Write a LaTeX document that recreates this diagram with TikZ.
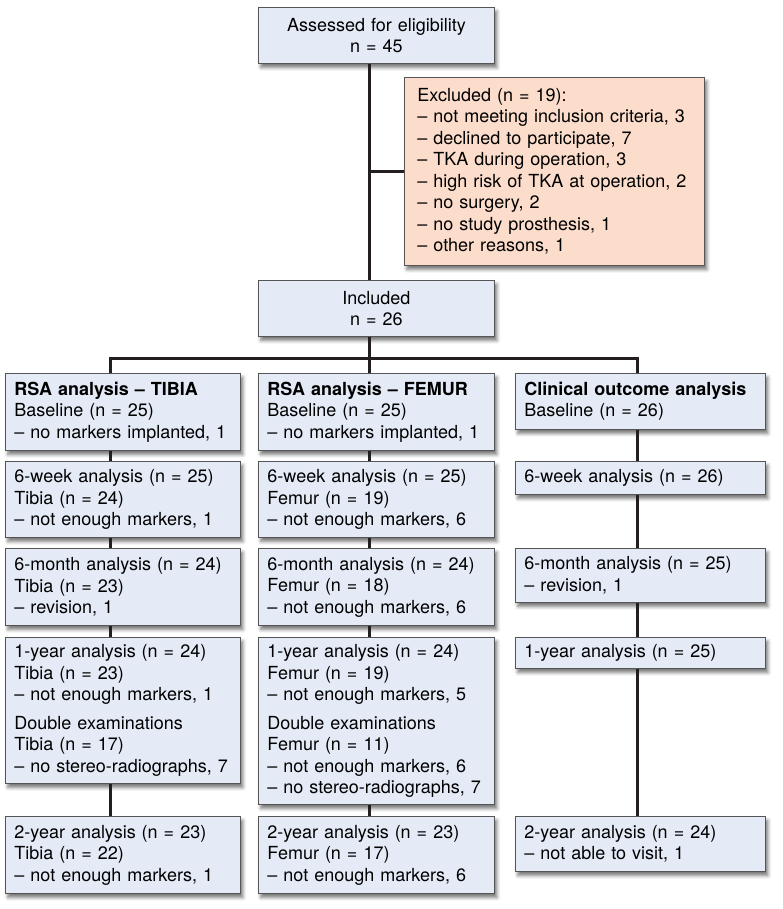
\documentclass[tikz,border=0pt]{standalone}
\usepackage{fontspec}
\setmainfont{TeX Gyre Heros}
\usetikzlibrary{shadows.blur,calc}
\definecolor{boxBlue}{RGB}{228,235,246}
\definecolor{exclPeach}{RGB}{252,221,203}
\definecolor{edgeGray}{RGB}{85,85,85}
\definecolor{lineBlack}{RGB}{35,31,32}
\tikzset{
  stage/.style={draw=edgeGray, line width=0.9pt, fill=boxBlue, anchor=north west, inner xsep=9pt, inner ysep=0pt, align=left, font=\fontsize{18}{21.5}\selectfont, blur shadow={shadow xshift=2.5pt, shadow yshift=-4pt, shadow blur radius=3.5pt, shadow opacity=55}},
  colA/.style={stage, text width=217pt},
  colB/.style={stage, text width=218pt},
  colC/.style={stage, text width=232pt},
  excl/.style={stage, fill=exclPeach, inner xsep=13pt, text width=274pt},
  link/.style={draw=lineBlack, line width=3pt}
}

\begin{document}
\begin{tikzpicture}[x=1pt,y=-1pt]
  \useasboundingbox (0,0) rectangle (782,909);

  % enrolment
  \node[colB, align=center, minimum height=56pt] (assessed) at (258,7) {Assessed for eligibility\\ n = 45};
  \node[excl, minimum height=188pt] (excluded) at (404,77) {
    Excluded (n = 19):\\
    – not meeting inclusion criteria, 3\\
    – declined to participate, 7\\
    – TKA during operation, 3\\
    – high risk of TKA at operation, 2\\
    – no surgery, 2\\
    – no study prosthesis, 1\\
    – other reasons, 1};
  \node[colB, align=center, minimum height=56pt] (included) at (258,280) {Included\\ n = 26};

  % tibia column
  \node[colA, minimum height=77pt] (tibia) at (5,373) {\textbf{RSA analysis – TIBIA}\\ Baseline (n = 25)\\ – no markers implanted, 1};
  \node[colA, minimum height=76pt] (tibiaW) at (5,461) {6-week analysis (n = 25)\\ Tibia (n = 24)\\ – not enough markers, 1};
  \node[colA, minimum height=77pt] (tibiaM) at (5,548) {6-month analysis (n = 24)\\ Tibia (n = 23)\\ – revision, 1};
  \node[colA, minimum height=146pt] (tibiaY) at (5,637) {1-year analysis (n = 24)\\ Tibia (n = 23)\\ – not enough markers, 1\\[7pt]
    Double examinations\\ Tibia (n = 17)\\ – no stereo-radiographs, 7};
  \node[colA, minimum height=77pt] (tibiaZ) at (5,816) {2-year analysis (n = 23)\\ Tibia (n = 22)\\ – not enough markers, 1};

  % femur column
  \node[colB, minimum height=77pt] (femur) at (258,373) {\textbf{RSA analysis – FEMUR}\\ Baseline (n = 25)\\ – no markers implanted, 1};
  \node[colB, minimum height=76pt] (femurW) at (258,461) {6-week analysis (n = 25)\\ Femur (n = 19)\\ – not enough markers, 6};
  \node[colB, minimum height=77pt] (femurM) at (258,548) {6-month analysis (n = 24)\\ Femur (n = 18)\\ – not enough markers, 6};
  \node[colB, minimum height=167pt] (femurY) at (258,637) {1-year analysis (n = 24)\\ Femur (n = 19)\\ – not enough markers, 5\\[7pt]
    Double examinations\\ Femur (n = 11)\\ – not enough markers, 6\\ – no stereo-radiographs, 7};
  \node[colB, minimum height=77pt] (femurZ) at (258,816) {2-year analysis (n = 23)\\ Femur (n = 17)\\ – not enough markers, 6};

  % clinical column
  \node[colC, minimum height=56pt] (clinical) at (515,373) {\textbf{Clinical outcome analysis}\\ Baseline (n = 26)};
  \node[colC, minimum height=33pt] (clinicalW) at (515,461) {6-week analysis (n = 26)};
  \node[colC, minimum height=54pt] (clinicalM) at (515,548) {6-month analysis (n = 25)\\ – revision, 1};
  \node[colC, minimum height=31pt] (clinicalY) at (515,637) {1-year analysis (n = 25)};
  \node[colC, minimum height=55pt] (clinicalZ) at (515,816) {2-year analysis (n = 24)\\ – not able to visit, 1};

  \coordinate (spineA) at (110,358);
  \coordinate (spineB) at (369,358);
  \coordinate (spineC) at (637,358);

  \draw[link] (assessed.south -| spineB) -- (included.north -| spineB);
  \draw[link] (excluded.west -| spineB) -- (excluded.west);
  \draw[link] (included.south -| spineB) -- (femur.north -| spineB);
  \draw[link] (tibia.north -| spineA) |- (spineB) -| (clinical.north -| spineC);

  \foreach \a/\b in {tibia/tibiaW,tibiaW/tibiaM,tibiaM/tibiaY,tibiaY/tibiaZ}
    \draw[link] (\a.south -| spineA) -- (\b.north -| spineA);
  \foreach \a/\b in {femur/femurW,femurW/femurM,femurM/femurY,femurY/femurZ}
    \draw[link] (\a.south -| spineB) -- (\b.north -| spineB);
  \foreach \a/\b in {clinical/clinicalW,clinicalW/clinicalM,clinicalM/clinicalY,clinicalY/clinicalZ}
    \draw[link] (\a.south -| spineC) -- (\b.north -| spineC);
\end{tikzpicture}
\end{document}
